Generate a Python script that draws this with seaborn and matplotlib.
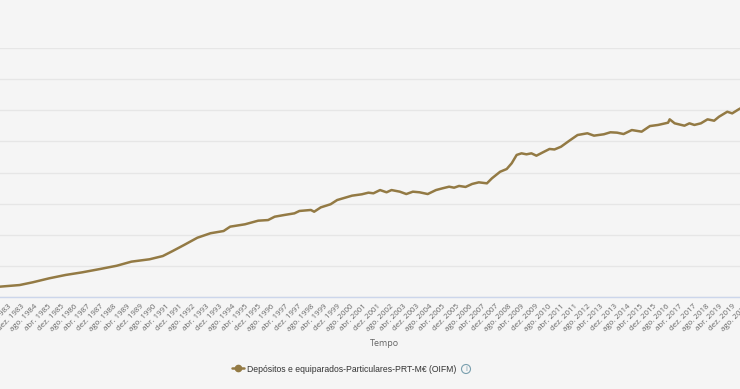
import pandas as pd
import numpy as np
import matplotlib.pyplot as plt
import matplotlib.dates as mdates
from matplotlib.lines import Line2D
from matplotlib.patches import Ellipse
import seaborn as sns

# -------------------------------
# Data (M€)
# -------------------------------
months = ['1982-11', '1983-11', '1984-07', '1985-05', '1986-03', '1987-01', '1987-12', '1988-10',
          '1989-07', '1990-06', '1991-02', '1991-08', '1992-03', '1992-11', '1993-07', '1994-03',
          '1994-07', '1995-04', '1995-12', '1996-06', '1996-10', '1997-04', '1997-10', '1998-01',
          '1998-08', '1998-10', '1999-02', '1999-08', '1999-12', '2000-09', '2001-03', '2001-07',
          '2001-10', '2002-02', '2002-06', '2002-09', '2003-02', '2003-06', '2003-10', '2004-02',
          '2004-07', '2004-12', '2005-04', '2005-08', '2005-11', '2006-02', '2006-06', '2006-10',
          '2007-02', '2007-07', '2007-10', '2008-03', '2008-07', '2008-10', '2009-01', '2009-04',
          '2009-07', '2009-10', '2010-01', '2010-05', '2010-09', '2010-12', '2011-04', '2011-09',
          '2012-02', '2012-08', '2012-12', '2013-06', '2013-10', '2014-02', '2014-06', '2014-11',
          '2015-05', '2015-10', '2016-03', '2016-09', '2016-10', '2017-01', '2017-07', '2017-10',
          '2018-01', '2018-05', '2018-09', '2019-01', '2019-04', '2019-09', '2019-12', '2020-04',
          '2020-05']
values = [8300, 9600, 11800, 15000, 17700, 19800, 22500, 25100,
          28400, 30300, 32900, 36900, 41800, 47600, 51200, 53000,
          56500, 58400, 61300, 61800, 64500, 65900, 67200, 69100,
          69900, 68500, 72000, 74500, 77900, 81400, 82500, 83800,
          83300, 85900, 84100, 85900, 84600, 82700, 84600, 84100,
          82700, 85900, 87300, 88600, 87800, 89200, 88400, 90800,
          92100, 91300, 95300, 100600, 102800, 107400, 114100, 115400,
          114600, 115400, 113500, 116200, 118900, 118500, 120700, 125500,
          130100, 131500, 129600, 130700, 132300, 132000, 130900, 134100,
          132800, 137300, 138200, 140000, 142700, 139500, 137600, 139500,
          138200, 139500, 142700, 141600, 144800, 148800, 147500, 150800,
          151500]

series_name = "Depósitos e equiparados-Particulares-PRT-M€ (OIFM)"
pt_months = ['jan.', 'fev.', 'mar.', 'abr.', 'mai.', 'jun.',
             'jul.', 'ago.', 'set.', 'out.', 'nov.', 'dez.']
tick_dates = pd.date_range('1982-08-01', '2020-12-01', freq='8MS')
tick_labels = [f"{pt_months[d.month - 1]} {d.year}" for d in tick_dates]

df = pd.DataFrame({'Tempo': pd.to_datetime(months, format='%Y-%m'), 'Valor': values})

# -------------------------------
# Plot
# -------------------------------
sns.set_style('white')
plt.rcParams['font.family'] = ['Open Sans', 'DejaVu Sans']

bg = '#f5f5f5'
line_color = '#937a44'

fig = plt.figure(figsize=(7.4, 3.89), dpi=100, facecolor=bg)
# the reference is a crop of a wider chart, so the axes run past the figure edges
px_left, px_right = -40, 780
ax = fig.add_axes([px_left / 740, 1 - 297 / 389, (px_right - px_left) / 740, (297 - 48) / 389])
ax.set_facecolor(bg)

sns.lineplot(data=df, x='Tempo', y='Valor', ax=ax, color=line_color, lw=1.8, legend=False)

anchor = mdates.date2num(pd.Timestamp('1983-04-01'))
per_px = 365.25 / 19.75
ax.set_xlim(anchor + (px_left - 8) * per_px, anchor + (px_right - 8) * per_px)
ax.set_ylim(0, 200000)

ax.set_xticks(mdates.date2num(tick_dates.to_pydatetime()))
ax.set_xticklabels(tick_labels, rotation=45, ha='right', va='top', rotation_mode='anchor',
                   fontsize=5.7, color='#666666')
ax.tick_params(axis='x', length=0, pad=4)
ax.set_yticks(np.arange(0, 200001, 25000))
ax.set_yticklabels([])
ax.tick_params(axis='y', length=0)
ax.grid(axis='y', color='#e6e6e6', lw=1)
ax.set_axisbelow(True)
for s in ['left', 'right', 'top']:
    ax.spines[s].set_visible(False)
ax.spines['bottom'].set_color('#ccd6eb')
ax.spines['bottom'].set_linewidth(1)
ax.set_xlabel('')
ax.set_ylabel('')

fig.text(384 / 740, 1 - 344 / 389, 'Tempo', ha='center', va='center', fontsize=6.5, color='#666666')

# legend
handle = Line2D([], [], color=line_color, lw=1.8, marker='o', markersize=4.5)
fig.legend([handle], [series_name], loc='center left', bbox_to_anchor=(232 / 740, 1 - 369 / 389),
           frameon=False, prop={'family': 'Liberation Sans', 'size': 6.2},
           handlelength=1.4, handletextpad=0.35, borderpad=0, borderaxespad=0, labelcolor='#333333')

# info icon
ix, iy = 466 / 740, 1 - 369 / 389
fig.add_artist(Ellipse((ix, iy), 9 / 740, 9 / 389, transform=fig.transFigure,
                       fill=False, edgecolor='#7a9fae', lw=0.8))
fig.text(ix, iy, 'i', ha='center', va='center', fontsize=5, color='#7a9fae', family='DejaVu Sans')

fig.savefig('out.png', dpi=100, facecolor=fig.get_facecolor())
